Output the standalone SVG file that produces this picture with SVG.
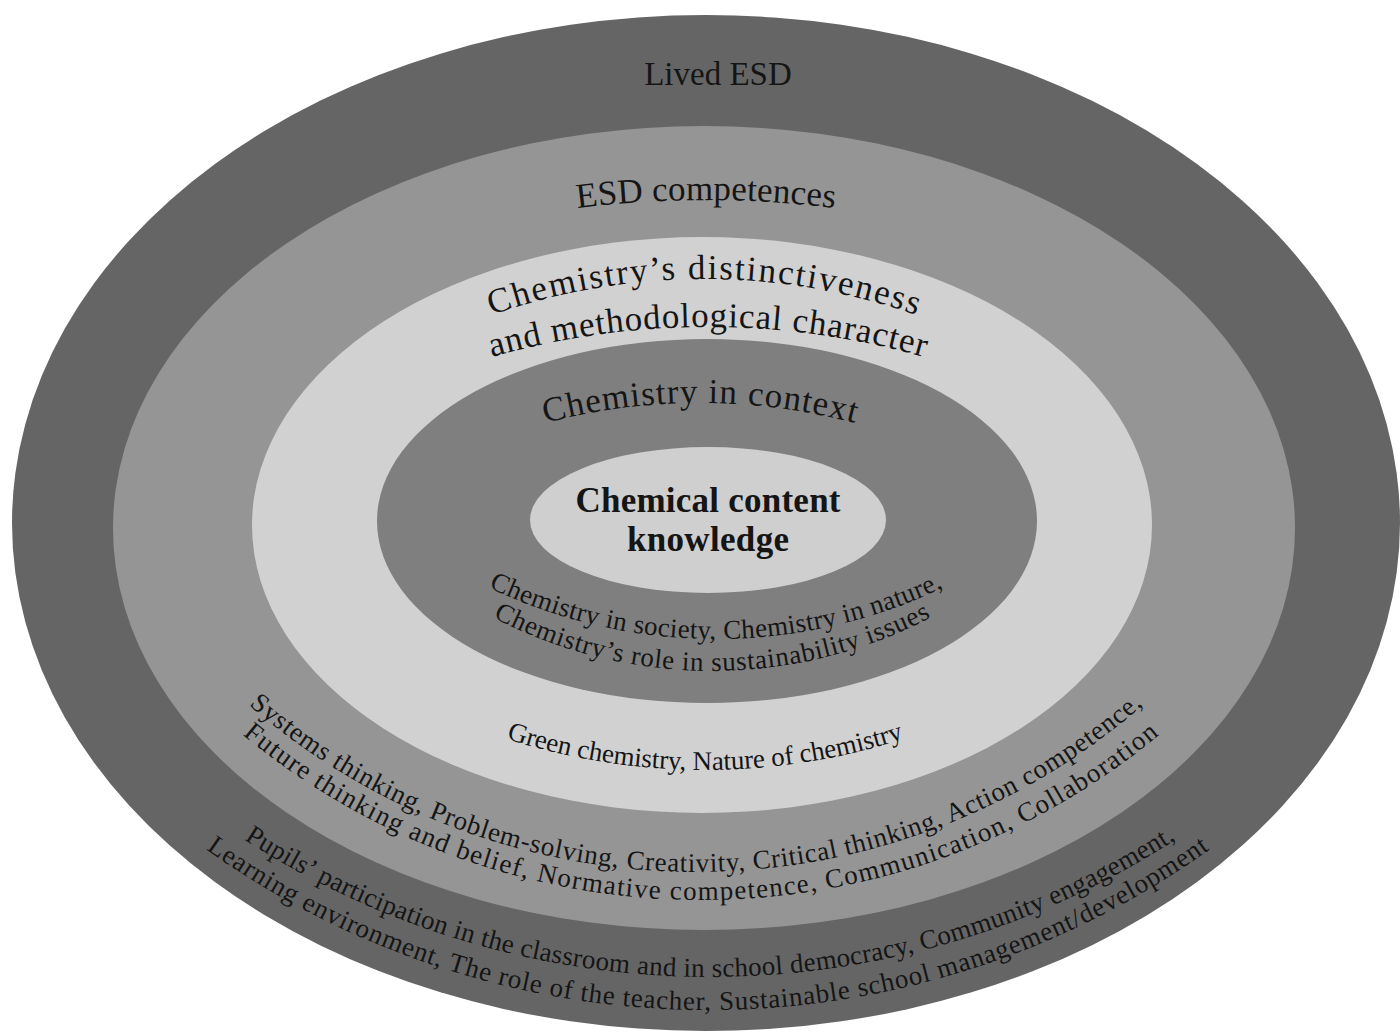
<svg xmlns="http://www.w3.org/2000/svg" width="1400" height="1032" viewBox="0 0 1400 1032">
<style>
  .t { font-family: "Liberation Serif", "Times New Roman", serif; fill: #151515; }
  .big { font-size: 35px; }
  .title { font-size: 33px; }
  .small { font-size: 27px; }
  .core { font-size: 35px; font-weight: bold; }
</style>
<defs>
  <path id="pEsd" d="M 406 244.7 A 1030 1030 0 0 1 1006 244.7"/>
  <path id="pDist1" d="M 404 353.4 A 642 642 0 0 1 1004 353.4"/>
  <path id="pDist2" d="M 408 385.9 A 793 793 0 0 1 1008 385.9"/>
  <path id="pCtx" d="M 450 456.6 A 610 610 0 0 1 950 456.6"/>
  <path id="pSoc1" d="M 366 506 A 527 527 0 0 0 1066 506"/>
  <path id="pSoc2" d="M 362 517 A 475 475 0 0 0 1062 517"/>
  <path id="pGreen" d="M 355 667.5 A 649 649 0 0 0 1055 667.5"/>
  <path id="pSys1" d="M 96 514.2 A 682 682 0 0 0 1296 514.2"/>
  <path id="pSys2" d="M 101 576.4 A 718 718 0 0 0 1301 576.4"/>
  <path id="pLiv1" d="M 60 679 A 858 858 0 0 0 1360 679"/>
  <path id="pLiv2" d="M 8 652.5 A 864 864 0 0 0 1408 652.5"/>
</defs>
<rect width="1400" height="1032" fill="#ffffff"/>

<g id="lived-esd">
  <ellipse cx="706" cy="523" rx="694" ry="508" fill="#656565"/>
</g>
<g id="esd-competences">
  <ellipse cx="704" cy="528" rx="591" ry="402" fill="#959595"/>
</g>
<g id="chemistry-distinctiveness">
  <ellipse cx="702" cy="525" rx="450" ry="288" fill="#d1d1d1"/>
</g>
<g id="chemistry-in-context">
  <ellipse cx="707" cy="521" rx="330" ry="182" fill="#7f7f7f"/>
</g>
<g id="chemical-content-knowledge">
  <ellipse cx="708" cy="520" rx="178" ry="73" fill="#cfcfcf"/>
</g>

<g id="labels">
  <text class="t title" x="718" y="85" text-anchor="middle">Lived ESD</text>
  <text class="t big" text-anchor="middle"><textPath href="#pEsd" startOffset="50%" textLength="258" lengthAdjust="spacing">ESD competences</textPath></text>
  <text class="t big" text-anchor="middle"><textPath href="#pDist1" startOffset="50%" textLength="433" lengthAdjust="spacing">Chemistry’s distinctiveness</textPath></text>
  <text class="t big" text-anchor="middle"><textPath href="#pDist2" startOffset="50%" textLength="438" lengthAdjust="spacing">and methodological character</textPath></text>
  <text class="t big" text-anchor="middle"><textPath href="#pCtx" startOffset="50%" textLength="313" lengthAdjust="spacing">Chemistry in context</textPath></text>
  <text class="t core" x="708" y="512" text-anchor="middle" textLength="265" lengthAdjust="spacing">Chemical content</text>
  <text class="t core" x="708" y="551" text-anchor="middle" textLength="162" lengthAdjust="spacing">knowledge</text>
  <text class="t small" text-anchor="middle"><textPath href="#pSoc1" startOffset="50%" textLength="470" lengthAdjust="spacing">Chemistry in society, Chemistry in nature,</textPath></text>
  <text class="t small" text-anchor="middle"><textPath href="#pSoc2" startOffset="50%" textLength="455" lengthAdjust="spacing">Chemistry’s role in sustainability issues</textPath></text>
  <text class="t small" text-anchor="middle"><textPath href="#pGreen" startOffset="50%" textLength="404" lengthAdjust="spacing">Green chemistry, Nature of chemistry</textPath></text>
  <text class="t small" text-anchor="middle"><textPath href="#pSys1" startOffset="50%" textLength="975" lengthAdjust="spacing">Systems thinking, Problem-solving, Creativity, Critical thinking, Action competence,</textPath></text>
  <text class="t small" text-anchor="middle"><textPath href="#pSys2" startOffset="50%" textLength="994" lengthAdjust="spacing">Future thinking and belief, Normative competence, Communication, Collaboration</textPath></text>
  <text class="t small" text-anchor="middle"><textPath href="#pLiv1" startOffset="50%" textLength="985" lengthAdjust="spacing">Pupils’ participation in the classroom and in school democracy, Community engagement,</textPath></text>
  <text class="t small" text-anchor="middle"><textPath href="#pLiv2" startOffset="50%" textLength="1071" lengthAdjust="spacing">Learning environment, The role of the teacher, Sustainable school management/development</textPath></text>
</g>
</svg>
